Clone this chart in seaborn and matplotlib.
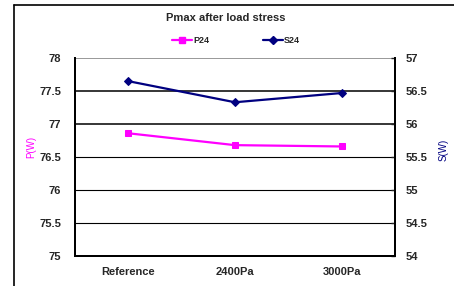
import matplotlib
matplotlib.use("Agg")
import matplotlib.pyplot as plt
import seaborn as sns
import pandas as pd
from matplotlib.lines import Line2D

stages = ["Reference", "2400Pa", "3000Pa"]
p24 = [76.86, 76.68, 76.66]
s24 = [56.65, 56.33, 56.47]
left_ticks = [75, 75.5, 76, 76.5, 77, 77.5, 78]
right_ticks = [54, 54.5, 55, 55.5, 56, 56.5, 57]

sns.set_style("white")
plt.rcParams["font.family"] = ["Liberation Sans", "DejaVu Sans"]

df = pd.DataFrame({"stage": stages, "P24": p24, "S24": s24})

fig = plt.figure(figsize=(4.54, 2.86), dpi=100)
ax = fig.add_axes([0.165, 0.105, 0.705, 0.692])
ax2 = ax.twinx()

pe_col = "#ff00ff"
s_col = "#000080"

sns.lineplot(data=df, x="stage", y="P24", ax=ax, color=pe_col, marker="s",
             markersize=5, markeredgecolor=pe_col, linewidth=1.6, sort=False)
sns.lineplot(data=df, x="stage", y="S24", ax=ax2, color=s_col, marker="D",
             markersize=4.5, markeredgecolor=s_col, linewidth=1.6, sort=False)

ax.set_xlim(-0.5, 2.5)
ax.set_ylim(75, 78)
ax2.set_ylim(54, 57)
ax.set_yticks(left_ticks)
ax.set_yticklabels([f"{t:g}" for t in left_ticks], fontsize=8, fontweight="bold")
ax2.set_yticks(right_ticks)
ax2.set_yticklabels([f"{t:g}" for t in right_ticks], fontsize=8, fontweight="bold")
ax.set_xticks(range(len(stages)))
ax.set_xticklabels(stages, fontsize=8, fontweight="bold")
ax.tick_params(axis="x", length=0, pad=8)
ax.set_xticks([0.5, 1.5], minor=True)
ax.tick_params(axis="x", which="minor", direction="in", length=3, width=1)
ax.tick_params(axis="y", length=0, pad=10)
ax2.tick_params(axis="y", direction="in", length=3, width=1, pad=8)

for y in left_ticks[1:-1]:
    ax.axhline(y, color="black", linewidth=1.1 if y >= 77 else 0.8, zorder=0)
ax.axhline(78, color="#888888", linewidth=1.2, zorder=0)

for a in (ax, ax2):
    for side in ("left", "bottom", "right"):
        a.spines[side].set_color("black")
        a.spines[side].set_linewidth(1.4)
    a.spines["top"].set_visible(False)

ax.set_xlabel("")
ax.set_ylabel("P(W)", color=pe_col, fontsize=7)
ax.yaxis.set_label_coords(-0.122, 0.55)
ax2.set_ylabel("S(W)", color=s_col, fontsize=7, rotation=90)
ax2.yaxis.set_label_coords(1.135, 0.535)
ax2.grid(False)

fig.text(0.498, 0.937, "Pmax after load stress", ha="center", va="center",
         fontsize=8, fontweight="bold")

handles = [
    Line2D([], [], color=pe_col, marker="s", markersize=4, linewidth=1.6),
    Line2D([], [], color=s_col, marker="D", markersize=4, linewidth=1.6),
]
fig.legend(handles, ["P24", "S24"], loc="center", bbox_to_anchor=(0.52, 0.857),
           ncol=2, frameon=False, handlelength=2.2, handletextpad=0.1,
           columnspacing=6.0, prop={"size": 6.5, "weight": "bold"})

fig.add_artist(Line2D([0.031, 0.031], [0.0, 0.983], color="black", linewidth=1.2,
                      transform=fig.transFigure))
fig.add_artist(Line2D([0.031, 1.0], [0.983, 0.983], color="black", linewidth=1.2,
                      transform=fig.transFigure))

fig.savefig("out.png", dpi=100)
